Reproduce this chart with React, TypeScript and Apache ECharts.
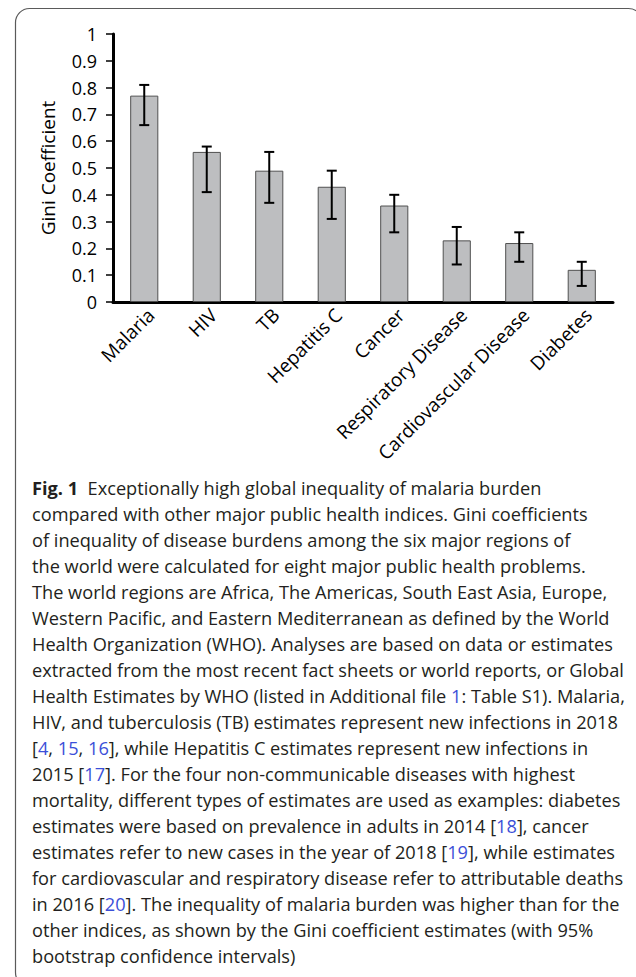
import React, { useEffect, useRef } from "react";
import * as echarts from "echarts";

const categories = [
  "Malaria",
  "HIV",
  "TB",
  "Hepatitis C",
  "Cancer",
  "Respiratory Disease",
  "Cardiovascular Disease",
  "Diabetes",
];
const gini = [0.77, 0.56, 0.49, 0.43, 0.36, 0.23, 0.22, 0.12];
const ciLow = [0.66, 0.41, 0.37, 0.31, 0.26, 0.14, 0.15, 0.06];
const ciHigh = [0.81, 0.58, 0.56, 0.49, 0.4, 0.28, 0.26, 0.15];

const captionLines = [
  "{b|Fig. 1}  Exceptionally high global inequality of malaria burden",
  "compared with other major public health indices. Gini coefficients",
  "of inequality of disease burdens among the six major regions of",
  "the world were calculated for eight major public health problems.",
  "The world regions are Africa, The Americas, South East Asia, Europe,",
  "Western Pacific, and Eastern Mediterranean as defined by the World",
  "Health Organization (WHO). Analyses are based on data or estimates",
  "extracted from the most recent fact sheets or world reports, or Global",
  "Health Estimates by WHO (listed in Additional file {l|1}: Table S1). Malaria,",
  "HIV, and tuberculosis (TB) estimates represent new infections in 2018",
  "[{l|4}, {l|15}, {l|16}], while Hepatitis C estimates represent new infections in",
  "2015 [{l|17}]. For the four non-communicable diseases with highest",
  "mortality, different types of estimates are used as examples: diabetes",
  "estimates were based on prevalence in adults in 2014 [{l|18}], cancer",
  "estimates refer to new cases in the year of 2018 [{l|19}], while estimates",
  "for cardiovascular and respiratory disease refer to attributable deaths",
  "in 2016 [{l|20}]. The inequality of malaria burden was higher than for the",
  "other indices, as shown by the Gini coefficient estimates (with 95%",
  "bootstrap confidence intervals)",
];

const CHART_FONT = "Open Sans";
const CAPTION_FONT = "Open Sans";
const CAPTION_SIZE = 18.2;

export default function App() {
  const ref = useRef<HTMLDivElement>(null);

  useEffect(() => {
    if (!ref.current) return;
    const chart = echarts.init(ref.current, undefined, { renderer: "svg" });

    const captionGraphics = captionLines.map((line, i) => ({
      type: "text",
      x: 32,
      y: 488 + i * 26,
      silent: true,
      style: {
        text: line,
        fill: "#231f20",
        fontFamily: CAPTION_FONT,
        fontSize: CAPTION_SIZE,
        verticalAlign: "middle",
        align: "left",
        rich: {
          b: {
            fontFamily: CAPTION_FONT,
            fontSize: CAPTION_SIZE,
            fontWeight: "bold",
            fill: "#231f20",
          },
          l: {
            fontFamily: CAPTION_FONT,
            fontSize: CAPTION_SIZE,
            fill: "#3b4fd8",
          },
        },
      },
    }));

    const option: any = {
      animation: false,
      backgroundColor: "#ffffff",
      grid: { left: 113, right: 23, top: 34, bottom: 675, containLabel: false },
      xAxis: {
        type: "category",
        data: categories,
        axisLine: { show: true, lineStyle: { color: "#000", width: 3 } },
        axisTick: { show: false },
        axisLabel: {
          rotate: 45,
          interval: 0,
          margin: 3,
          verticalAlign: "top",
          color: "#000",
          fontFamily: CHART_FONT,
          fontSize: 19,
        },
      },
      yAxis: {
        type: "value",
        min: 0,
        max: 1,
        interval: 0.1,
        name: "Gini Coefficient",
        nameLocation: "middle",
        nameGap: 56,
        nameTextStyle: { color: "#000", fontFamily: CHART_FONT, fontSize: 19 },
        axisLine: { show: true, lineStyle: { color: "#000", width: 3 } },
        axisTick: { show: true, length: 7, lineStyle: { color: "#000", width: 1.5 } },
        splitLine: { show: false },
        axisLabel: {
          margin: 16,
          color: "#000",
          fontFamily: CHART_FONT,
          fontSize: 18,
          formatter: (v: number) => {
            const r = Math.round(v * 10) / 10;
            return r === 0 ? "0" : r === 1 ? "1" : r.toFixed(1);
          },
        },
      },
      series: [
        {
          type: "bar",
          data: gini,
          barWidth: "45%",
          itemStyle: { color: "#bdbec0", borderColor: "#505050", borderWidth: 1 },
          z: 2,
        },
        {
          type: "custom",
          data: categories.map((_, i) => [i, ciLow[i], ciHigh[i]]),
          encode: { x: 0, y: [1, 2] },
          z: 5,
          renderItem: (params: any, api: any) => {
            const idx = api.value(0);
            const lo = api.coord([idx, api.value(1)]);
            const hi = api.coord([idx, api.value(2)]);
            const hw = 5;
            const st = { stroke: "#000", lineWidth: 2 };
            return {
              type: "group",
              children: [
                { type: "line", shape: { x1: lo[0], y1: lo[1], x2: hi[0], y2: hi[1] }, style: st },
                { type: "line", shape: { x1: lo[0] - hw, y1: lo[1], x2: lo[0] + hw, y2: lo[1] }, style: st },
                { type: "line", shape: { x1: hi[0] - hw, y1: hi[1], x2: hi[0] + hw, y2: hi[1] }, style: st },
              ],
            };
          },
        },
      ],
      graphic: [
        {
          type: "rect",
          silent: true,
          shape: { x: 15.5, y: 8.5, width: 627, height: 978, r: 14 },
          style: { fill: "none", stroke: "#5a5a5a", lineWidth: 1.2 },
          z: 0,
        },
        ...captionGraphics,
      ],
    };

    chart.setOption(option);
    return () => chart.dispose();
  }, []);

  return (
    <div
      ref={ref}
      style={{ position: "absolute", left: 0, top: 0, width: 636, height: 977 }}
    />
  );
}
